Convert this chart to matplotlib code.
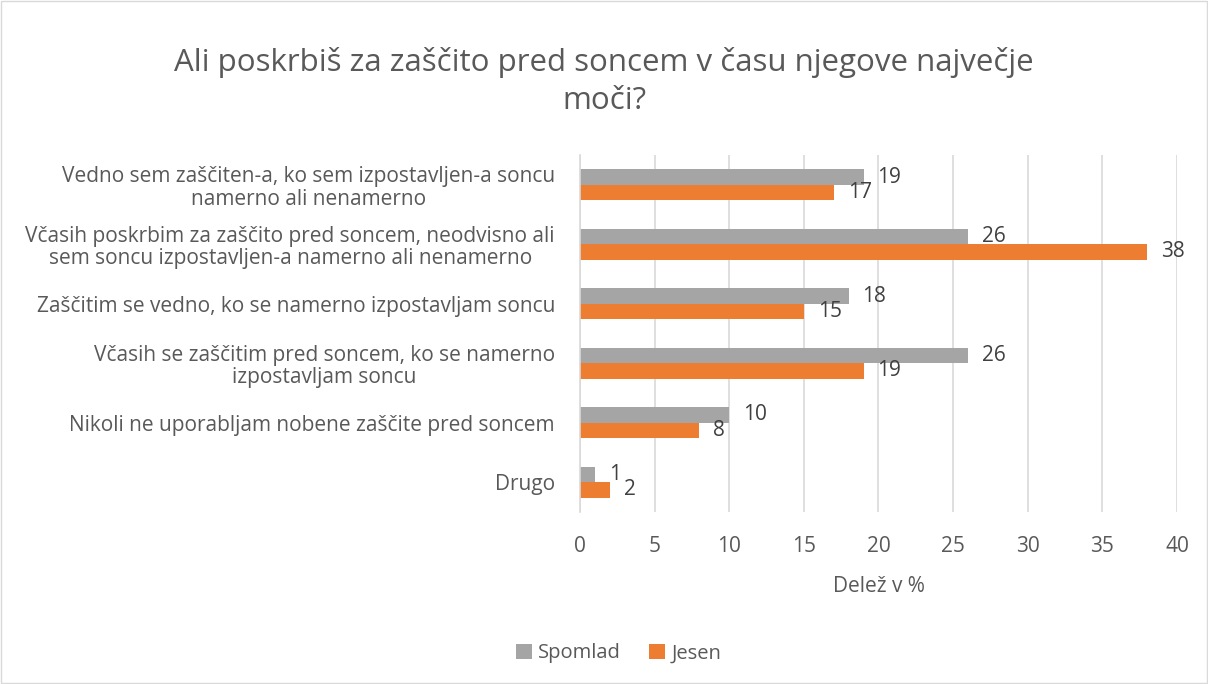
import numpy as np
import matplotlib.pyplot as plt
from matplotlib.patches import Rectangle

plt.rcParams['font.family'] = ['Open Sans', 'DejaVu Sans']

# Data
categories = [
    "Vedno sem zaščiten-a, ko sem izpostavljen-a soncu\nnamerno ali nenamerno",
    "Včasih poskrbim za zaščito pred soncem, neodvisno ali\nsem soncu izpostavljen-a namerno ali nenamerno",
    "Zaščitim se vedno, ko se namerno izpostavljam soncu",
    "Včasih se zaščitim pred soncem, ko se namerno\nizpostavljam soncu",
    "Nikoli ne uporabljam nobene zaščite pred soncem",
    "Drugo",
]
spomlad = [19, 26, 18, 26, 10, 1]
jesen = [17, 38, 15, 19, 8, 2]

text_color = "#595959"
grid_color = "#d9d9d9"
c_spomlad = "#A5A5A5"
c_jesen = "#ED7D31"
fs = 15

fig = plt.figure(figsize=(12.08, 6.84), dpi=100)
ax = fig.add_axes([0.4801, 0.2515, 0.4942, 0.5219])

y = np.arange(len(categories))
h = 0.26
b1 = ax.barh(y - h / 2, spomlad, height=h, color=c_spomlad, label="Spomlad")
b2 = ax.barh(y + h / 2, jesen, height=h, color=c_jesen, label="Jesen")

for bars, vals in [(b1, spomlad), (b2, jesen)]:
    for bar, v in zip(bars, vals):
        ax.annotate(str(v), (bar.get_width(), bar.get_y() + bar.get_height() / 2),
                    xytext=(10, 0), textcoords="offset points", va="center", ha="left",
                    fontsize=fs, color="#404040")

ax.set_ylim(len(categories) - 0.5, -0.5)
ax.set_xlim(0, 40)
ax.set_xticks(np.arange(0, 41, 5))
ax.set_yticks(y)
ax.set_yticklabels(categories, multialignment="center", linespacing=1.1)
ax.tick_params(axis="both", length=0, labelsize=fs, labelcolor=text_color)
ax.tick_params(axis="y", pad=18)
ax.tick_params(axis="x", pad=17)
ax.grid(axis="x", color=grid_color, linewidth=1.2)
ax.set_axisbelow(True)
for s in ["top", "right", "bottom"]:
    ax.spines[s].set_visible(False)
ax.spines["left"].set_color(grid_color)
ax.spines["left"].set_linewidth(1.2)

ax.set_xlabel("Delež v %", fontsize=fs, color=text_color, labelpad=14)

fig.text(0.5, 0.881, "Ali poskrbiš za zaščito pred soncem v času njegove največje\nmoči?",
         ha="center", va="center", fontsize=22.5, color=text_color, linespacing=1.35)

fig.legend(handles=[b1, b2], loc="center", bbox_to_anchor=(0.512, 0.045), ncol=2,
           frameon=False, fontsize=14.5, labelcolor=text_color, handlelength=0.8,
           handleheight=0.8, handletextpad=0.3, columnspacing=1.4)

fig.patches.append(Rectangle((0.001, 0.001), 0.998, 0.997, transform=fig.transFigure,
                             fill=False, edgecolor=grid_color, linewidth=1))

fig.savefig("out.png", dpi=100)
